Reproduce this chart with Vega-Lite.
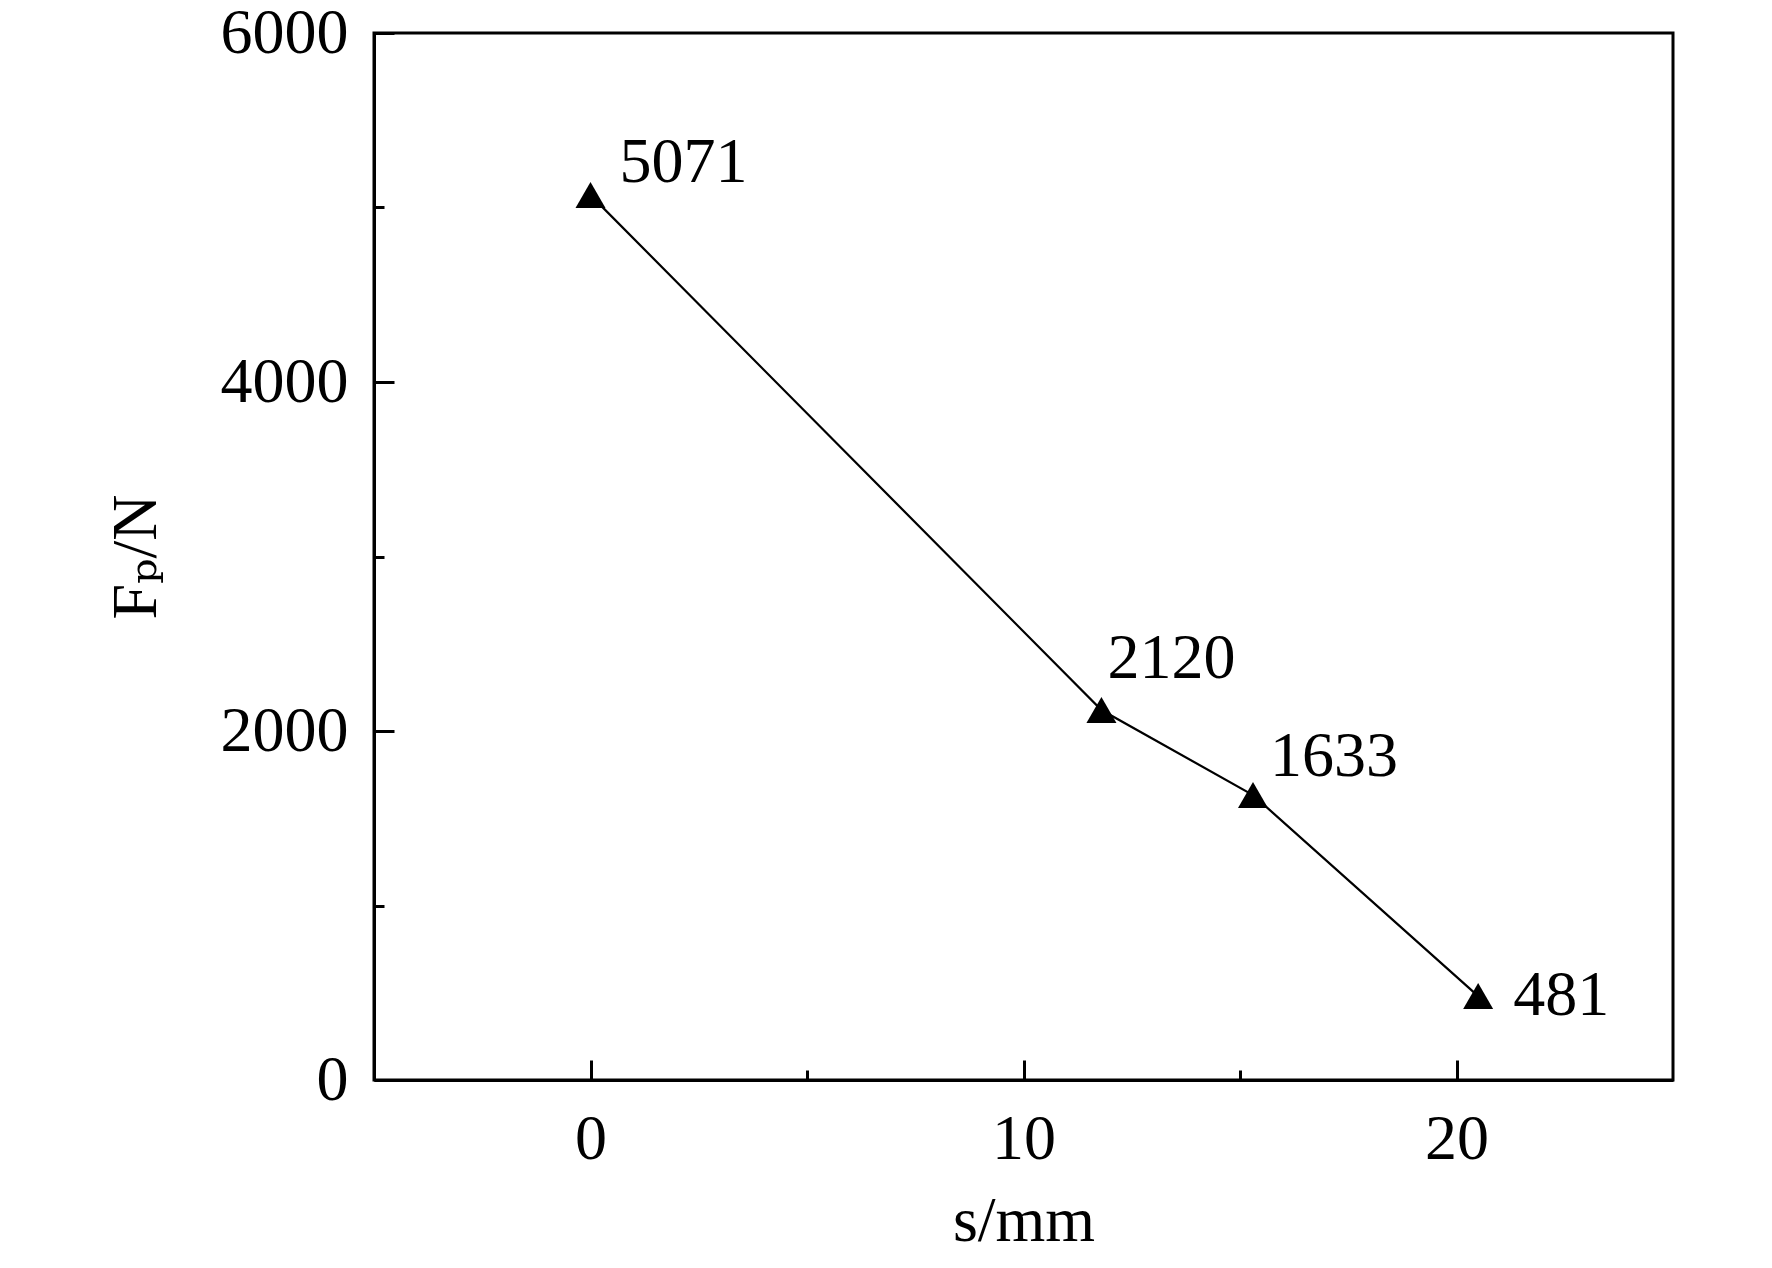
{
  "$schema": "https://vega.github.io/schema/vega-lite/v6.json",
  "width": 1299,
  "height": 1047,
  "autosize": "none",
  "padding": {"left": 374, "top": 33, "right": 99, "bottom": 188},
  "background": "white",
  "config": {
    "view": {"stroke": "black", "strokeWidth": 3},
    "font": "Liberation Serif"
  },
  "data": {
    "values": [
      {"s": 0, "F": 5071, "label": "5071"},
      {"s": 11.8, "F": 2120, "label": "2120"},
      {"s": 15.3, "F": 1633, "label": "1633"},
      {"s": 20.5, "F": 481, "label": "481"}
    ]
  },
  "resolve": {"axis": {"x": "independent", "y": "independent"}},
  "layer": [
    {
      "mark": {"type": "line", "color": "black", "strokeWidth": 2.2},
      "encoding": {
        "x": {
          "field": "s", "type": "quantitative",
          "scale": {"domain": [-5, 25], "nice": false, "zero": false},
          "axis": {
            "orient": "bottom", "format": "d",
            "values": [0, 10, 20], "tickSize": -20, "tickWidth": 3, "tickColor": "black",
            "labelPadding": 47, "labelFontSize": 64, "labelFont": "Liberation Serif", "labelColor": "black",
            "labelFlush": false,
            "domainColor": "black", "domainWidth": 3, "grid": false,
            "title": "s/mm", "titleFont": "Liberation Serif", "titleFontSize": 64, "titleFontWeight": "normal",
            "titleColor": "black", "titlePadding": 18
          }
        },
        "y": {
          "field": "F", "type": "quantitative",
          "scale": {"domain": [0, 6000], "nice": false},
          "axis": {
            "orient": "left", "format": "d",
            "values": [0, 2000, 4000, 6000], "tickSize": -20, "tickWidth": 3, "tickColor": "black",
            "labelPadding": 46, "labelFontSize": 64, "labelFont": "Liberation Serif", "labelColor": "black",
            "domainColor": "black", "domainWidth": 3, "grid": false,
            "title": "Fₚ/N", "titleFont": "Liberation Serif, DejaVu Serif", "titleFontSize": 64, "titleFontWeight": "normal",
            "titleColor": "black", "titlePadding": 52
          }
        }
      }
    },
    {
      "mark": {"type": "point", "shape": "triangle-up", "filled": true, "color": "black", "size": 900, "opacity": 1},
      "encoding": {
        "x": {
          "field": "s", "type": "quantitative",
          "axis": {"orient": "bottom", "values": [5, 15], "tickSize": -10, "tickWidth": 3, "tickColor": "black",
                   "labels": false, "domain": false, "grid": false, "title": null}
        },
        "y": {
          "field": "F", "type": "quantitative",
          "axis": {"orient": "left", "values": [1000, 3000, 5000], "tickSize": -10, "tickWidth": 3, "tickColor": "black",
                   "labels": false, "domain": false, "grid": false, "title": null}
        }
      }
    },
    {
      "transform": [{"filter": "datum.F == 5071"}],
      "mark": {"type": "text", "align": "left", "baseline": "middle", "fontSize": 64, "font": "Liberation Serif", "color": "black", "dx": 29, "dy": -32},
      "encoding": {
        "x": {"field": "s", "type": "quantitative", "axis": null},
        "y": {"field": "F", "type": "quantitative", "axis": null},
        "text": {"field": "label"}
      }
    },
    {
      "transform": [{"filter": "datum.F == 2120"}],
      "mark": {"type": "text", "align": "left", "baseline": "middle", "fontSize": 64, "font": "Liberation Serif", "color": "black", "dx": 6, "dy": -51},
      "encoding": {
        "x": {"field": "s", "type": "quantitative", "axis": null},
        "y": {"field": "F", "type": "quantitative", "axis": null},
        "text": {"field": "label"}
      }
    },
    {
      "transform": [{"filter": "datum.F == 1633"}],
      "mark": {"type": "text", "align": "left", "baseline": "middle", "fontSize": 64, "font": "Liberation Serif", "color": "black", "dx": 17, "dy": -38},
      "encoding": {
        "x": {"field": "s", "type": "quantitative", "axis": null},
        "y": {"field": "F", "type": "quantitative", "axis": null},
        "text": {"field": "label"}
      }
    },
    {
      "transform": [{"filter": "datum.F == 481"}],
      "mark": {"type": "text", "align": "left", "baseline": "middle", "fontSize": 64, "font": "Liberation Serif", "color": "black", "dx": 35, "dy": 0},
      "encoding": {
        "x": {"field": "s", "type": "quantitative", "axis": null},
        "y": {"field": "F", "type": "quantitative", "axis": null},
        "text": {"field": "label"}
      }
    }
  ]
}
